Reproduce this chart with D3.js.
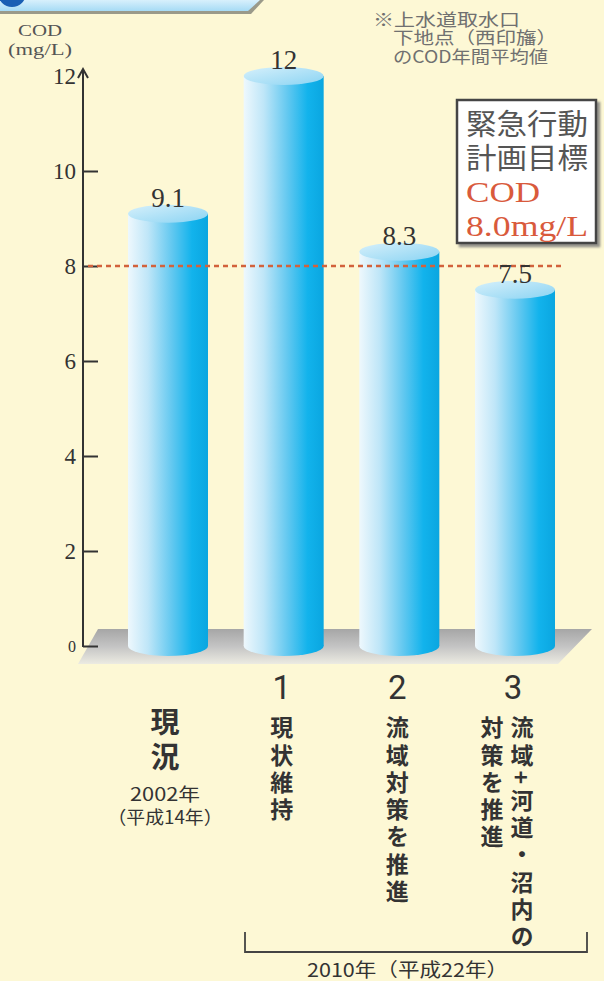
<!DOCTYPE html>
<html>
<head>
<meta charset="utf-8">
<script src="https://cdn.jsdelivr.net/npm/d3@7/dist/d3.min.js"></script>
<style>
  html, body { margin: 0; padding: 0; background: #fdf8d5; }
  svg { display: block; }
</style>
</head>
<body>
<svg id="chart" width="604" height="981"></svg>
<script>
// COD annual averages (mg/L) at the water intake point
const categories = ["現況", "1", "2", "3"];
const values = [9.1, 12, 8.3, 7.5];
const yTicks = [0, 2, 4, 6, 8, 10, 12];
const targetValue = 8.0;
const numberLabels = ["", "1", "2", "3"];
const scenarioColumns = [[], ["現状維持"], ["流域対策を推進"], ["流域+河道・沼内の", "対策を推進"]];
const baseLabel = ["現", "況"];
const baseYearLines = ["2002年", "（平成14年）"];
const futureYearLabel = "2010年（平成22年）";
const noteLines = ["※上水道取水口", "下地点（西印旛）", "のCOD年間平均値"];
const targetBoxLines = ["緊急行動", "計画目標", "COD", "8.0mg/L"];
const axisTitle = ["COD", "(mg/L)"];

const svg = d3.select("#chart");
const W = 604, H = 981;
const serif = "'Liberation Serif', 'DejaVu Serif', serif";
const gothic = "'Noto Sans CJK JP', 'Noto Sans', sans-serif";

const y = d3.scaleLinear().domain([0, 12]).range([646, 76]);
const x = d3.scalePoint().domain(categories).range([168, 515]);
const barW = 80, rx = barW / 2, ryTop = 9, ryBot = 10;

const defs = svg.append("defs");
const bodyGrad = defs.append("linearGradient").attr("id", "cylBody").attr("x1", 0).attr("x2", 1).attr("y1", 0).attr("y2", 0);
[[0, "#eef8fd"], [0.25, "#bfe6f8"], [0.55, "#62c8f0"], [0.8, "#12b3ec"], [1, "#0aa6e0"]]
  .forEach(([o, c]) => bodyGrad.append("stop").attr("offset", o).attr("stop-color", c));
const topGrad = defs.append("linearGradient").attr("id", "cylTop").attr("x1", 0).attr("x2", 1).attr("y1", 0).attr("y2", 1);
[[0, "#d6f0fb"], [0.6, "#a9dff6"], [1, "#8ad4f3"]]
  .forEach(([o, c]) => topGrad.append("stop").attr("offset", o).attr("stop-color", c));
const floorGrad = defs.append("linearGradient").attr("id", "floorG").attr("x1", 0).attr("x2", 0).attr("y1", 0).attr("y2", 1);
[[0, "#a6a6a6"], [0.5, "#c4c4c4"], [1, "#ecebe2"]]
  .forEach(([o, c]) => floorGrad.append("stop").attr("offset", o).attr("stop-color", c));
const tabGrad = defs.append("linearGradient").attr("id", "tabG").attr("x1", 0).attr("x2", 0).attr("y1", 0).attr("y2", 1);
[[0, "#d8f0fc"], [1, "#a6dbf5"]]
  .forEach(([o, c]) => tabGrad.append("stop").attr("offset", o).attr("stop-color", c));
const shadow = defs.append("filter").attr("id", "boxShadow").attr("x", "-10%").attr("y", "-10%").attr("width", "130%").attr("height", "130%");
shadow.append("feDropShadow").attr("dx", 3).attr("dy", 3).attr("stdDeviation", 1.2).attr("flood-color", "#777").attr("flood-opacity", 0.8);

// background
svg.append("rect").attr("width", W).attr("height", H).attr("fill", "#fdf8d5");

// heading tab
svg.append("polygon").attr("points", "0,0 264,0 251,14 0,14").attr("fill", "#9a9a8a");
svg.append("polygon").attr("points", "0,0 260,0 248,11 0,11").attr("fill", "url(#tabG)");
svg.append("circle").attr("cx", 12).attr("cy", -7).attr("r", 14).attr("fill", "#1a5fb4");

// floor
svg.append("polygon")
  .attr("points", [[98, 629], [592, 629], [558, 664], [78, 664]].map(p => p.join(",")).join(" "))
  .attr("fill", "url(#floorG)");

// cylinders
const bars = svg.append("g").selectAll("g").data(categories).join("g");
bars.append("ellipse")
  .attr("cx", d => x(d)).attr("cy", y(0)).attr("rx", rx).attr("ry", ryBot)
  .attr("fill", "url(#cylBody)");
bars.append("rect")
  .attr("x", d => x(d) - rx).attr("width", barW)
  .attr("y", (d, i) => y(values[i])).attr("height", (d, i) => y(0) - y(values[i]))
  .attr("fill", "url(#cylBody)");
bars.append("ellipse")
  .attr("cx", d => x(d)).attr("cy", (d, i) => y(values[i])).attr("rx", rx).attr("ry", ryTop)
  .attr("fill", "url(#cylTop)");

// y axis: ticks point inward, labels on the left
const yAxis = d3.axisLeft(y).tickValues(yTicks).tickSizeInner(-15).tickSizeOuter(0).tickPadding(7).tickFormat(d3.format("d"));
const ax = svg.append("g").attr("transform", "translate(83,0)").call(yAxis);
ax.select(".domain").remove();
ax.selectAll(".tick line").attr("stroke", "#333").attr("stroke-width", 2)
  .filter(d => d === 12).remove();
ax.selectAll(".tick text").attr("fill", "#333").attr("font-family", serif)
  .attr("font-size", d => d === 0 ? 16 : 23);
ax.append("line").attr("x1", 0).attr("x2", 0).attr("y1", y(0) + 1).attr("y2", y(12) - 5)
  .attr("stroke", "#333").attr("stroke-width", 2);
ax.append("path").attr("d", `M-5,${y(12) + 2} L0,${y(12) - 7} L5,${y(12) + 2}`)
  .attr("fill", "none").attr("stroke", "#333").attr("stroke-width", 2);

// axis title
svg.append("g").selectAll("text").data(axisTitle).join("text")
  .attr("x", (d, i) => i === 0 ? 18 : 8).attr("y", (d, i) => 36 + i * 19)
  .attr("font-family", serif).attr("font-size", 16).attr("fill", "#555")
  .attr("textLength", (d, i) => i === 0 ? 44 : 64).attr("lengthAdjust", "spacingAndGlyphs")
  .text(d => d);

// target line
svg.append("line").attr("x1", 88).attr("x2", 563).attr("y1", y(targetValue)).attr("y2", y(targetValue))
  .attr("stroke", "#d2623c").attr("stroke-width", 2.5).attr("stroke-dasharray", "5,4");

// value labels
svg.append("g").selectAll("text").data(categories).join("text")
  .attr("x", d => x(d)).attr("y", (d, i) => y(values[i]) - 7)
  .attr("text-anchor", "middle").attr("font-family", serif).attr("font-size", 27).attr("fill", "#333")
  .text((d, i) => d3.format(values[i] % 1 === 0 ? "d" : ".1f")(values[i]));

// note (flattened type, so widths are set explicitly)
const noteX = [373, 393, 393], noteW = [147, 164, 155], noteY = [26, 44, 63];
svg.append("text").attr("font-family", gothic).attr("font-size", 17).attr("fill", "#707070")
  .selectAll("tspan").data(noteLines).join("tspan")
  .attr("x", (d, i) => noteX[i]).attr("y", (d, i) => noteY[i])
  .attr("textLength", (d, i) => noteW[i]).attr("lengthAdjust", "spacingAndGlyphs")
  .text(d => d);

// target box
svg.append("rect").attr("x", 457).attr("y", 100).attr("width", 139).attr("height", 143)
  .attr("fill", "#fff").attr("stroke", "#444").attr("stroke-width", 2.5).attr("filter", "url(#boxShadow)");
svg.append("text")
  .selectAll("tspan").data(targetBoxLines).join("tspan")
  .attr("x", 466).attr("y", (d, i) => 135 + i * 33.5)
  .attr("font-family", (d, i) => i < 2 ? gothic : serif)
  .attr("font-size", (d, i) => i < 2 ? 29 : 30)
  .attr("fill", (d, i) => i < 2 ? "#555" : "#d95a3c")
  .attr("textLength", (d, i) => i === 2 ? 74 : 122).attr("lengthAdjust", "spacingAndGlyphs")
  .text(d => d);

// scenario numbers
svg.append("g").selectAll("text").data(categories).join("text")
  .attr("x", d => x(d) - 2).attr("y", 699)
  .attr("text-anchor", "middle").attr("font-family", "'Liberation Sans Narrow', 'Roboto', sans-serif")
  .attr("font-size", 33).attr("fill", "#333")
  .text((d, i) => numberLabels[i]);

// vertical scenario descriptions
categories.forEach((cat, i) => {
  const cols = scenarioColumns[i];
  cols.forEach((col, j) => {
    const cx = cols.length === 1 ? x(cat) - 2 : x(cat) + 7 - j * 30;
    svg.append("text")
      .attr("x", cx).attr("y", 716)
      .style("writing-mode", "vertical-rl")
      .attr("font-family", gothic).attr("font-weight", 700)
      .attr("font-size", 23).attr("letter-spacing", 4.3).attr("fill", "#333")
      .text(col);
  });
});

// current-state label
svg.append("text")
  .attr("text-anchor", "middle")
  .attr("font-family", gothic).attr("font-weight", 700).attr("font-size", 29).attr("fill", "#333")
  .selectAll("tspan").data(baseLabel).join("tspan")
  .attr("x", x(categories[0]) - 3).attr("y", (d, i) => 733 + i * 35)
  .text(d => d);
const yearW = [70, 115];
svg.append("text")
  .attr("font-family", gothic).attr("font-size", 18).attr("fill", "#333")
  .selectAll("tspan").data(baseYearLines).join("tspan")
  .attr("x", (d, i) => x(categories[0]) - 3 - yearW[i] / 2).attr("y", (d, i) => 801 + i * 23)
  .attr("textLength", (d, i) => yearW[i]).attr("lengthAdjust", "spacingAndGlyphs")
  .text(d => d);

// bracket over the 2010 scenarios
svg.append("path").attr("d", "M245,932 V952 H587 V932")
  .attr("fill", "none").attr("stroke", "#444").attr("stroke-width", 1.8);
svg.append("text").attr("x", 307).attr("y", 977)
  .attr("font-family", gothic).attr("font-size", 19).attr("fill", "#333")
  .attr("textLength", 201).attr("lengthAdjust", "spacingAndGlyphs")
  .text(futureYearLabel);
</script>
</body>
</html>
